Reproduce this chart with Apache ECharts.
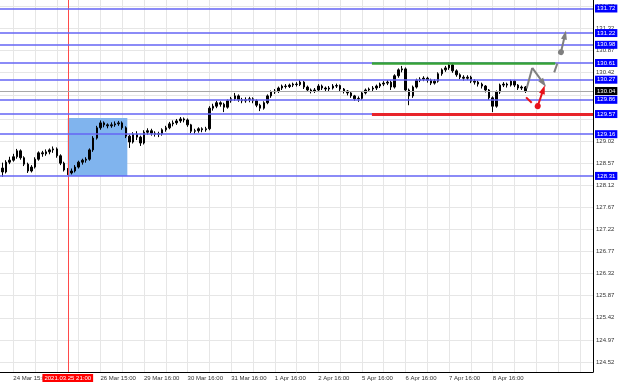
<!DOCTYPE html>
<html>
<head>
  <meta charset="utf-8">
  <title>H1 chart</title>
  <script src="https://cdn.jsdelivr.net/npm/echarts/dist/echarts.min.js"></script>
  <style>
    html, body { margin: 0; padding: 0; background: #fff; }
    #main { width: 620px; height: 383px; }
  </style>
</head>
<body>

<div id="main"></div>

<script>
  // hours counted from 24 Mar 15:00; [hour, open, close, low, high]
  const candles = [
    [-6, 128.47, 128.39, 128.29, 128.58], [-4, 128.39, 128.59, 128.36, 128.63],
    [-2, 128.59, 128.63, 128.55, 128.70], [0, 128.63, 128.70, 128.60, 128.76],
    [2, 128.70, 128.82, 128.66, 128.86], [4, 128.82, 128.68, 128.64, 128.85],
    [6, 128.68, 128.55, 128.51, 128.71], [8, 128.55, 128.41, 128.37, 128.58],
    [10, 128.41, 128.49, 128.38, 128.53], [12, 128.49, 128.65, 128.46, 128.69],
    [14, 128.65, 128.78, 128.62, 128.81], [16, 128.78, 128.76, 128.70, 128.82],
    [18, 128.76, 128.80, 128.72, 128.85], [20, 128.80, 128.84, 128.75, 128.87],
    [22, 128.84, 128.86, 128.78, 128.91], [24, 128.86, 128.72, 128.68, 128.89],
    [26, 128.72, 128.57, 128.53, 128.75], [28, 128.57, 128.43, 128.40, 128.60],
    [30, 128.43, 128.37, 128.33, 128.47], [32, 128.37, 128.41, 128.34, 128.46],
    [34, 128.41, 128.49, 128.38, 128.53], [36, 128.49, 128.59, 128.46, 128.62],
    [38, 128.59, 128.63, 128.54, 128.66], [40, 128.63, 128.65, 128.58, 128.69],
    [42, 128.65, 128.84, 128.62, 128.87], [44, 128.84, 129.08, 128.80, 129.12],
    [46, 129.08, 129.29, 129.05, 129.33], [48, 129.29, 129.39, 129.25, 129.44],
    [50, 129.39, 129.35, 129.30, 129.42], [52, 129.35, 129.33, 129.28, 129.38],
    [54, 129.33, 129.35, 129.29, 129.40], [56, 129.35, 129.37, 129.31, 129.42],
    [58, 129.37, 129.39, 129.33, 129.43], [60, 129.39, 129.29, 129.25, 129.42],
    [62, 129.29, 129.12, 129.08, 129.32], [64, 129.12, 129.00, 128.88, 129.15],
    [66, 129.00, 129.16, 128.97, 129.20], [68, 129.16, 129.10, 129.04, 129.22],
    [70, 129.10, 128.98, 128.92, 129.13], [72, 128.98, 129.20, 128.95, 129.24],
    [74, 129.20, 129.23, 129.15, 129.28], [76, 129.23, 129.18, 129.13, 129.27],
    [78, 129.18, 129.16, 129.11, 129.22], [80, 129.16, 129.17, 129.10, 129.21],
    [82, 129.17, 129.25, 129.13, 129.28], [84, 129.25, 129.29, 129.21, 129.33],
    [86, 129.29, 129.37, 129.26, 129.41], [88, 129.37, 129.39, 129.32, 129.44],
    [90, 129.39, 129.43, 129.35, 129.47], [92, 129.43, 129.47, 129.39, 129.51],
    [94, 129.47, 129.45, 129.40, 129.50], [96, 129.45, 129.35, 129.31, 129.48],
    [98, 129.35, 129.22, 129.18, 129.37], [100, 129.22, 129.23, 129.17, 129.27],
    [102, 129.23, 129.27, 129.19, 129.30], [104, 129.27, 129.25, 129.20, 129.30],
    [106, 129.25, 129.27, 129.21, 129.31], [108, 129.27, 129.69, 129.24, 129.73],
    [110, 129.69, 129.73, 129.64, 129.78], [112, 129.73, 129.80, 129.69, 129.84],
    [114, 129.80, 129.77, 129.72, 129.83], [116, 129.77, 129.71, 129.61, 129.80],
    [118, 129.71, 129.84, 129.68, 129.87], [120, 129.84, 129.88, 129.80, 129.92],
    [122, 129.88, 129.94, 129.84, 130.00], [124, 129.94, 129.86, 129.82, 129.97],
    [126, 129.86, 129.84, 129.79, 129.90], [128, 129.84, 129.86, 129.80, 129.91],
    [130, 129.86, 129.88, 129.81, 129.92], [132, 129.88, 129.84, 129.79, 129.91],
    [134, 129.84, 129.75, 129.71, 129.87], [136, 129.75, 129.69, 129.63, 129.78],
    [138, 129.69, 129.80, 129.66, 129.83], [140, 129.80, 129.94, 129.77, 129.97],
    [142, 129.94, 130.02, 129.90, 130.05], [144, 130.02, 130.04, 129.98, 130.08],
    [146, 130.04, 130.10, 130.00, 130.13], [148, 130.10, 130.14, 130.06, 130.17],
    [150, 130.14, 130.13, 130.09, 130.18], [152, 130.13, 130.16, 130.10, 130.19],
    [154, 130.16, 130.18, 130.12, 130.21], [156, 130.18, 130.17, 130.13, 130.22],
    [158, 130.17, 130.22, 130.14, 130.26], [160, 130.22, 130.12, 130.08, 130.24],
    [162, 130.12, 130.06, 130.02, 130.15], [164, 130.06, 130.04, 129.99, 130.09],
    [166, 130.04, 130.06, 130.00, 130.10], [168, 130.06, 130.14, 130.03, 130.18],
    [170, 130.14, 130.10, 130.06, 130.17], [172, 130.10, 130.08, 130.03, 130.13],
    [174, 130.08, 130.10, 130.04, 130.14], [176, 130.10, 130.14, 130.07, 130.18],
    [178, 130.14, 130.15, 130.10, 130.19], [180, 130.15, 130.08, 130.04, 130.17],
    [182, 130.08, 130.04, 129.99, 130.10], [184, 130.04, 130.00, 129.95, 130.06],
    [186, 130.00, 129.94, 129.90, 130.02], [188, 129.94, 129.88, 129.84, 129.96],
    [190, 129.88, 129.89, 129.82, 129.93], [192, 129.89, 130.00, 129.86, 130.03],
    [194, 130.00, 130.06, 129.97, 130.09], [196, 130.06, 130.08, 130.02, 130.11],
    [198, 130.08, 130.10, 130.04, 130.14], [200, 130.10, 130.14, 130.06, 130.17],
    [202, 130.14, 130.18, 130.10, 130.21], [204, 130.18, 130.20, 130.14, 130.24],
    [206, 130.20, 130.22, 130.16, 130.26], [208, 130.22, 130.12, 130.06, 130.25],
    [210, 130.12, 130.35, 130.09, 130.38], [212, 130.35, 130.47, 130.31, 130.50],
    [214, 130.47, 130.49, 130.42, 130.55], [216, 130.49, 130.06, 130.02, 130.52],
    [218, 130.06, 129.94, 129.75, 130.09], [220, 129.94, 130.12, 129.90, 130.15],
    [222, 130.12, 130.26, 130.09, 130.29], [224, 130.26, 130.28, 130.22, 130.32],
    [226, 130.28, 130.30, 130.24, 130.34], [228, 130.30, 130.26, 130.21, 130.33],
    [230, 130.26, 130.20, 130.16, 130.29], [232, 130.20, 130.24, 130.17, 130.28],
    [234, 130.24, 130.39, 130.21, 130.42], [236, 130.39, 130.47, 130.35, 130.50],
    [238, 130.47, 130.51, 130.43, 130.55], [240, 130.51, 130.57, 130.47, 130.63],
    [242, 130.57, 130.45, 130.41, 130.60], [244, 130.45, 130.37, 130.33, 130.48],
    [246, 130.37, 130.32, 130.28, 130.40], [248, 130.32, 130.30, 130.25, 130.36],
    [250, 130.30, 130.32, 130.26, 130.36], [252, 130.32, 130.24, 130.20, 130.35],
    [254, 130.24, 130.22, 130.17, 130.28], [256, 130.22, 130.18, 130.13, 130.25],
    [258, 130.18, 130.14, 130.09, 130.21], [260, 130.14, 130.06, 130.01, 130.16],
    [262, 130.06, 129.90, 129.86, 130.08], [264, 129.90, 129.73, 129.61, 129.93],
    [266, 129.73, 130.02, 129.70, 130.05], [268, 130.02, 130.16, 129.98, 130.19],
    [270, 130.16, 130.18, 130.12, 130.22], [272, 130.18, 130.16, 130.11, 130.21],
    [274, 130.16, 130.24, 130.13, 130.27], [276, 130.24, 130.16, 130.12, 130.26],
    [278, 130.16, 130.10, 130.06, 130.18], [280, 130.10, 130.12, 130.06, 130.15],
    [282, 130.12, 130.04, 130.00, 130.14]
  ];

  // time axis (hours from 24 Mar 15:00)
  const xLabelHours = [0, 48, 72, 96, 120, 144, 168, 192, 216, 240, 264];
  const xLabelText = ['24 Mar 15:00', '26 Mar 15:00', '29 Mar 16:00', '30 Mar 16:00', '31 Mar 16:00',
    '1 Apr 16:00', '2 Apr 16:00', '5 Apr 16:00', '6 Apr 16:00', '7 Apr 16:00', '8 Apr 16:00'];
  const xGridHours = [0, 12, 24, 36, 48, 60, 72, 84, 96, 108, 120, 132, 144, 156, 168, 180,
    192, 204, 216, 228, 240, 252, 264, 276, 288, 300, 312];
  const crossHour = 30;
  const crossLabel = '2021.03.25 21:00';

  // price axis
  const yGridPrices = [124.52, 124.97, 125.42, 125.87, 126.32, 126.77, 127.22, 127.67, 128.12,
    128.57, 129.02, 129.47, 129.95, 130.42, 130.87, 131.32, 131.77];
  const yLabelPrices = [124.52, 124.97, 125.42, 125.87, 126.32, 126.77, 127.22, 127.67, 128.12,
    128.57, 129.02, 130.42, 130.87, 131.32, 131.77];

  // drawn objects
  const levelPrices = [131.72, 131.22, 130.98, 130.61, 130.27, 129.86, 129.57, 129.16, 128.31];
  const bidPrice = 130.04;
  const boxHours = [30, 62.8];
  const boxPrices = [128.31, 129.49];
  const resistance = [197.5, 298.5, 130.61];
  const support = [197.5, 319.25, 129.57];
  const grayPath = [[282.7, 130.09], [285.8, 130.51], [291.9, 130.20]];
  const grayTick = [[297.9, 130.42], [299.6, 130.60]];
  const grayUp = [[301.6, 130.83], [303.8, 131.18]];
  const redTick = [[282.4, 129.91], [285.5, 129.80]];
  const redUp = [[288.8, 129.73], [291.9, 130.07]];

  const xMin = -7.32, xMax = 319.25;
  const yMin = 124.316, yMax = 131.893;
  const font = 'Liberation Sans';

  function seg(a, b, endSymbol, startSymbol) {
    return [
      { coord: a, symbol: startSymbol || 'none', symbolSize: 6 },
      { coord: b, symbol: endSymbol || 'none', symbolSize: [6, 9] }
    ];
  }

  var myChart = echarts.init(document.getElementById('main'));

  var option = {
    animation: false,
    grid: { left: 0, right: 27, top: 0, bottom: 11 },
    xAxis: [
      {
        type: 'value',
        min: xMin,
        max: xMax,
        axisLine: { onZero: false, lineStyle: { color: '#000', width: 1 } },
        axisTick: { show: false, customValues: xGridHours },
        axisLabel: {
          customValues: xLabelHours,
          formatter: v => xLabelText[xLabelHours.indexOf(v)],
          align: 'left',
          margin: 3,
          fontSize: 6,
          fontFamily: font,
          color: '#333'
        },
        splitLine: { show: true, lineStyle: { color: '#e6e6e6', width: 1 } }
      },
      {
        type: 'value',
        position: 'bottom',
        min: xMin,
        max: xMax,
        z: 10,
        axisLine: { show: false },
        axisTick: { show: false },
        splitLine: { show: false },
        axisLabel: {
          customValues: [crossHour],
          formatter: () => crossLabel,
          margin: 2,
          fontSize: 6,
          fontFamily: font,
          color: '#fff',
          backgroundColor: '#ff0000',
          padding: [1, 2]
        }
      }
    ],
    yAxis: {
      type: 'value',
      position: 'right',
      min: yMin,
      max: yMax,
      axisLine: { show: true, onZero: false, lineStyle: { color: '#000', width: 1 } },
      axisTick: { show: false, customValues: yGridPrices },
      axisLabel: {
        customValues: yLabelPrices,
        formatter: v => v.toFixed(2),
        margin: 3,
        fontSize: 6,
        fontFamily: font,
        color: '#333'
      },
      splitLine: { show: true, lineStyle: { color: '#e6e6e6', width: 1 } }
    },
    series: [
      {
        // range box + crosshair
        type: 'line',
        data: [],
        z: 1,
        markArea: {
          silent: true,
          itemStyle: { color: '#80b4ee' },
          data: [[{ xAxis: boxHours[0], yAxis: boxPrices[0] }, { xAxis: boxHours[1], yAxis: boxPrices[1] }]]
        },
        markLine: {
          silent: true,
          symbol: 'none',
          label: { show: false },
          lineStyle: { color: '#ff4a4a', width: 1, type: 'solid' },
          data: [{ xAxis: crossHour }]
        }
      },
      {
        // horizontal levels
        type: 'line',
        data: [],
        z: 2,
        markLine: {
          silent: true,
          symbol: 'none',
          lineStyle: { color: '#6464f4', width: 1.5, type: 'solid' },
          label: {
            position: 'end',
            distance: 2,
            formatter: p => p.value.toFixed(2),
            color: '#fff',
            backgroundColor: '#0000ff',
            padding: [1, 2],
            fontSize: 6,
            fontFamily: font
          },
          data: levelPrices.map(p => ({ yAxis: p }))
        }
      },
      {
        type: 'line',
        data: [],
        z: 2,
        markLine: {
          silent: true,
          symbol: 'none',
          lineStyle: { color: '#a8a8a8', width: 1, type: 'solid' },
          label: {
            position: 'end',
            distance: 2,
            formatter: p => p.value.toFixed(2),
            color: '#fff',
            backgroundColor: '#000',
            padding: [1, 2],
            fontSize: 6,
            fontFamily: font
          },
          data: [{ yAxis: bidPrice }]
        }
      },
      {
        type: 'candlestick',
        data: candles,
        encode: { x: 0, y: [1, 2, 3, 4] },
        barWidth: 2,
        z: 3,
        itemStyle: {
          color: '#000',
          color0: '#000',
          borderColor: '#000',
          borderColor0: '#000',
          borderWidth: 1
        }
      },
      {
        // resistance / support
        type: 'line',
        data: [],
        z: 4,
        markLine: {
          silent: true,
          symbol: 'none',
          label: { show: false },
          data: [
            [
              { coord: [resistance[0], resistance[2]], lineStyle: { color: '#36a336', width: 2.5, type: 'solid' } },
              { coord: [resistance[1], resistance[2]] }
            ],
            [
              { coord: [support[0], support[2]], lineStyle: { color: '#e8242a', width: 3, type: 'solid' } },
              { coord: [support[1], support[2]] }
            ]
          ]
        }
      },
      {
        // forecast arrows
        type: 'line',
        data: [],
        z: 5,
        markLine: {
          silent: true,
          label: { show: false },
          lineStyle: { color: '#7f7f7f', width: 2, type: 'solid' },
          data: [
            seg(grayPath[0], grayPath[1]),
            seg(grayPath[1], grayPath[2], 'triangle'),
            seg(grayTick[0], grayTick[1]),
            seg(grayUp[0], grayUp[1], 'triangle', 'circle')
          ]
        }
      },
      {
        type: 'line',
        data: [],
        z: 5,
        markLine: {
          silent: true,
          label: { show: false },
          lineStyle: { color: '#e8121a', width: 2, type: 'solid' },
          data: [
            seg(redTick[0], redTick[1]),
            seg(redUp[0], redUp[1], 'triangle', 'circle')
          ]
        }
      }
    ]
  };

  myChart.setOption(option);
</script>
</body>
</html>
